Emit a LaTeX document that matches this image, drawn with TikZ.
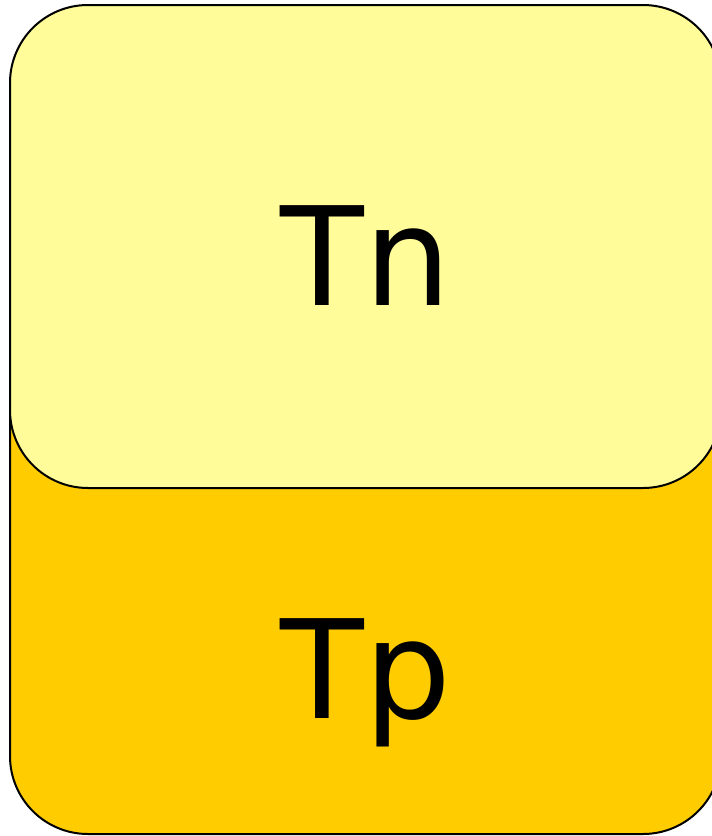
\documentclass[tikz,border=0pt]{standalone}
\usepackage{fontspec}
\setmainfont{DejaVu Sans}
\definecolor{lightyel}{HTML}{FFFC99}
\definecolor{goldyel}{HTML}{FFCC00}
\begin{document}
\begin{tikzpicture}[x=1pt,y=-1pt,
  boxstyle/.style={draw=black,line width=2pt,rounded corners=78pt},
  lbl/.style={anchor=base,inner sep=0pt,font=\fontsize{137}{145}\selectfont}]
\useasboundingbox (0,0) rectangle (712,836);
\begin{scope}
\clip (0,0) rectangle (712,836);
\filldraw[boxstyle,fill=goldyel] (10,250) rectangle (721,834);
\filldraw[boxstyle,fill=lightyel] (10,5) rectangle (721,488);
\end{scope}
\node[lbl] (tn) at (366,305) {Tn};
\node[lbl] (tp) at (366,718) {Tp};
\end{tikzpicture}
\end{document}
